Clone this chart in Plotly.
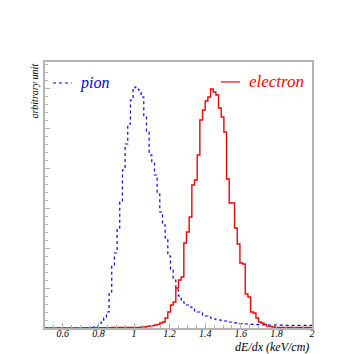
import numpy as np
import plotly.graph_objects as go

# histogram binning: 100 bins from 0.5 to 2.0 keV/cm
bin_lo = 0.5
bin_width = 0.015
n_bins = 100

pion = [0, 0, 0, 0, 0, 0, 0, 0, 0, 0,
        0, 0, 0, 0, 0, 0, 0, 2, 5, 8,
        15, 30, 50, 80, 180, 315, 375, 500, 635, 790,
        920, 1020, 1140, 1205, 1200, 1190, 1155, 1055, 980, 865,
        825, 765, 670, 580, 515, 450, 360, 290, 240, 190,
        160, 140, 125, 115, 105, 95, 85, 80, 75, 65,
        60, 55, 50, 45, 42, 40, 38, 35, 32, 30,
        28, 26, 25, 22, 21, 20, 20, 18, 18, 17,
        17, 16, 16, 15, 15, 15, 14, 14, 14, 14,
        13, 13, 13, 13, 13, 13, 13, 13, 13, 13]

electron = [0, 0, 0, 0, 0, 0, 0, 0, 0, 0,
            0, 0, 0, 0, 0, 1, 1, 1, 1, 1,
            1, 1, 1, 1, 1, 3, 3, 3, 3, 3,
            3, 3, 3, 3, 3, 3, 5, 5, 8, 10,
            12, 15, 18, 25, 30, 50, 80, 115, 130, 200,
            240, 255, 425, 480, 555, 715, 740, 865, 1040, 1090,
            1135, 1155, 1195, 1180, 1165, 1100, 1055, 980, 745, 625,
            625, 500, 420, 325, 320, 170, 155, 80, 75, 50,
            30, 25, 18, 10, 8, 5, 3, 3, 3, 3,
            3, 3, 3, 3, 3, 3, 3, 3, 3, 3]

x_ticks = [0.6, 0.8, 1.0, 1.2, 1.4, 1.6, 1.8, 2.0]
x_ticktext = ["0.6", "0.8", "1", "1.2", "1.4", "1.6", "1.8", "2"]

edges = bin_lo + bin_width * np.arange(n_bins + 1)

SERIF = "Liberation Serif"
AXCOL = "#b4b4b4"

fig = go.Figure()

# pion (blue dotted step)
fig.add_trace(go.Scatter(
    x=edges, y=pion + [pion[-1]],
    mode="lines", line=dict(color="#0000ff", width=1.2, dash="dot", shape="hv"),
    name="pion", showlegend=False, hoverinfo="skip",
))
# electron (red solid step)
fig.add_trace(go.Scatter(
    x=edges, y=electron + [electron[-1]],
    mode="lines", line=dict(color="#ff0000", width=1.4, shape="hv"),
    name="electron", showlegend=False, hoverinfo="skip",
))

# legend drawn by hand, ROOT style
fig.add_shape(type="line", xref="paper", yref="paper", x0=0.03, x1=0.10, y0=0.921, y1=0.921,
              line=dict(color="#0000ff", width=1.2, dash="dot"))
fig.add_annotation(x=0.124, y=0.921, xref="paper", yref="paper", text="pion",
                   showarrow=False, xanchor="left", yanchor="middle",
                   font=dict(family=SERIF, size=16, color="#0000ff", style="italic"))
fig.add_shape(type="line", xref="paper", yref="paper", x0=0.659, x1=0.73, y0=0.925, y1=0.925,
              line=dict(color="#ff0000", width=1.2))
fig.add_annotation(x=0.757, y=0.925, xref="paper", yref="paper", text="electron",
                   showarrow=False, xanchor="left", yanchor="middle",
                   font=dict(family=SERIF, size=17, color="#ff0000", style="italic"))

# axis titles
fig.add_annotation(x=-0.041, y=1.0, xref="paper", yref="paper", text="arbitrary unit",
                   textangle=-90, showarrow=False, xanchor="center", yanchor="top",
                   font=dict(family=SERIF, size=10, color="black", style="italic"))
fig.add_annotation(x=0.995, y=-0.072, xref="paper", yref="paper", text="dE/dx (keV/cm)",
                   showarrow=False, xanchor="right", yanchor="middle",
                   font=dict(family=SERIF, size=12, color="black", style="italic"))

# page body adds 8px, so the figure is 346 px with margins trimmed to match
fig.update_layout(
    width=346, height=346,
    margin=dict(l=37, r=42, t=54, b=26),
    plot_bgcolor="white", paper_bgcolor="white",
    showlegend=False,
    xaxis=dict(
        range=[0.5, 2.0], tickvals=x_ticks, ticktext=x_ticktext,
        ticks="inside", ticklen=5, tickcolor=AXCOL, tickwidth=1,
        minor=dict(dtick=0.05, tick0=0.5, ticks="inside", ticklen=3, tickcolor=AXCOL),
        showline=True, linecolor=AXCOL, linewidth=1.5, mirror=True,
        showgrid=False, zeroline=False, ticklabelstandoff=-5,
        tickfont=dict(family=SERIF, size=10, color="black", style="italic"),
    ),
    yaxis=dict(
        range=[0, 1330], dtick=200, tick0=0,
        ticks="inside", ticklen=5, tickcolor=AXCOL, tickwidth=1,
        minor=dict(dtick=40, ticks="inside", ticklen=3, tickcolor=AXCOL),
        showline=True, linecolor=AXCOL, linewidth=1.5, mirror=True,
        showgrid=False, zeroline=False, showticklabels=False,
    ),
)

fig.write_html("out.html")
